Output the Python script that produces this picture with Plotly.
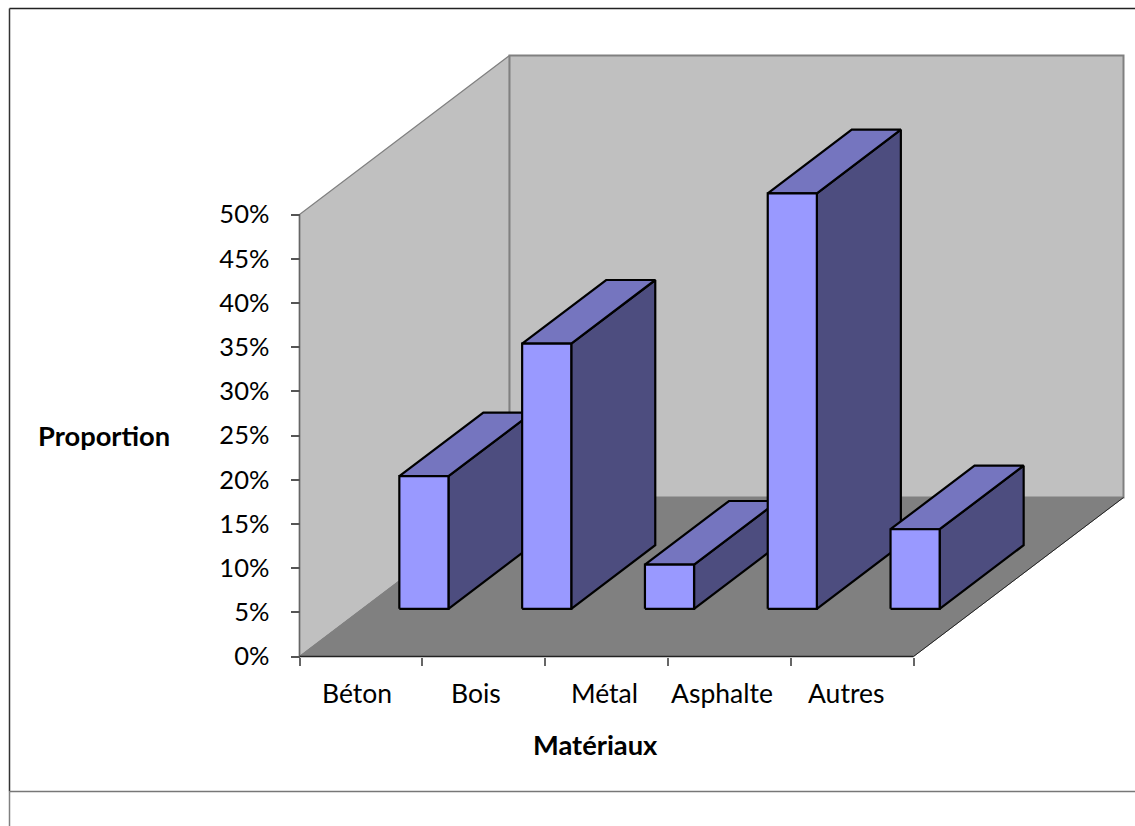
import plotly.graph_objects as go

categories = ["Béton", "Bois", "Métal", "Asphalte", "Autres"]
values = [15, 30, 5, 47, 9]
y_ticks = [0, 5, 10, 15, 20, 25, 30, 35, 40, 45, 50]
y_tick_labels = [f"{v}%" for v in y_ticks]
label_shift = [-0.03, -0.06, -0.02, -0.06, -0.05]

W, H = 1135, 826
X0, X1, Y0, Y1 = 299.5, 913.5, 656.5, 214.5
UX = (X1 - X0) / 5              # px per category
UY = (Y0 - Y1) / 50             # px per percent
DX = 210 / UX                   # depth vector, category units
DY = 159 / UY                   # depth vector, percent units
Y_MAX = 50
BAR_W = 0.4
FRONT, BACK = 0.3, 0.7

WALL, FLOOR = "#C0C0C0", "#808080"
EDGE = "#808080"
FRONT_C, TOP_C, SIDE_C = "#9999FF", "#7575BF", "#4D4D7F"
FONT = "Lato"
FS = 26.5
FS_Y = 25.5
FS_B = 27.3


def poly(xs, ys, fill, line, width):
    return go.Scatter(
        x=xs + xs[:1], y=ys + ys[:1], mode="lines", fill="toself", fillcolor=fill,
        line=dict(color=line, width=width, shape="linear"),
        hoverinfo="skip", showlegend=False,
    )


def seg(xs, ys, color, width):
    return go.Scatter(x=xs, y=ys, mode="lines", line=dict(color=color, width=width),
                      hoverinfo="skip", showlegend=False)


traces = [
    poly([0, DX, DX, 0], [0, DY, DY + Y_MAX, Y_MAX], WALL, EDGE, 1.3),
    poly([DX, 5 + DX, 5 + DX, DX], [DY, DY, DY + Y_MAX, DY + Y_MAX], WALL, EDGE, 2),
    poly([0, 5, 5 + DX, DX], [0, 0, DY, DY], FLOOR, FLOOR, 1),
    seg([5, 5 + DX], [0, DY], "#222222", 1),
    seg([0, 0], [0, Y_MAX], "#666666", 1.5),
    seg([0, 5], [0, 0], "#222222", 1.5),
]

for i, v in enumerate(values):
    l = i + 0.5 - BAR_W / 2 + FRONT * DX
    r = l + BAR_W
    b = FRONT * DY
    t = b + v
    ddx = (BACK - FRONT) * DX
    ddy = (BACK - FRONT) * DY
    traces.append(poly([r, r + ddx, r + ddx, r], [b, b + ddy, t + ddy, t], SIDE_C, "#000000", 2.2))
    traces.append(poly([l, r, r + ddx, l + ddx], [t, t, t + ddy, t + ddy], TOP_C, "#000000", 2.2))
    traces.append(poly([l, r, r, l], [b, b, t, t], FRONT_C, "#000000", 2.2))

fig = go.Figure(traces)

annotations = [
    dict(x=i + 0.5 + s, y=0, xref="x", yref="y", yshift=-36, text=c, showarrow=False,
         xanchor="center", yanchor="middle",
         font=dict(family=FONT, size=FS, color="#000000"))
    for i, (c, s) in enumerate(zip(categories, label_shift))
]
annotations += [
    dict(x=103.5 / W, y=1 - 436 / H, xref="paper", yref="paper", text="<b>Proportion</b>",
         xanchor="center", yanchor="middle",
         showarrow=False, font=dict(family=FONT, size=FS_B, color="#000000")),
    dict(x=595 / W, y=1 - 744 / H, xref="paper", yref="paper", text="<b>Matériaux</b>",
         xanchor="center", yanchor="middle",
         showarrow=False, font=dict(family=FONT, size=FS_B, color="#000000")),
]

shapes = [
    dict(type="line", xref="paper", yref="paper", x0=9.5 / W, x1=1, y0=1 - 8.5 / H, y1=1 - 8.5 / H,
         line=dict(color="#222222", width=1.5)),
    dict(type="line", xref="paper", yref="paper", x0=9.5 / W, x1=9.5 / W, y0=1 - 8.5 / H, y1=1 - 791.5 / H,
         line=dict(color="#333333", width=1.5)),
    dict(type="line", xref="paper", yref="paper", x0=9.5 / W, x1=1, y0=1 - 791.5 / H, y1=1 - 791.5 / H,
         line=dict(color="#777777", width=1.5)),
    dict(type="line", xref="paper", yref="paper", x0=9.5 / W, x1=9.5 / W, y0=1 - 791.5 / H, y1=0,
         line=dict(color="#808080", width=1.5)),
]

fig.update_layout(
    width=W, height=H, margin=dict(l=0, r=0, t=0, b=0), autosize=False,
    paper_bgcolor="#FFFFFF", plot_bgcolor="rgba(0,0,0,0)",
    showlegend=False, annotations=annotations, shapes=shapes,
    xaxis=dict(
        domain=[0, 1], range=[-X0 / UX, (W - X0) / UX], tickmode="array", tickvals=[0, 1, 2, 3, 4, 5],
        ticktext=[""] * 6, ticks="outside", ticklen=8, tickwidth=1.5, tickcolor="#666666",
        anchor="free", position=1 - Y0 / H,
        showgrid=False, zeroline=False, showline=False, fixedrange=True,
    ),
    yaxis=dict(
        domain=[0, 1], range=[-(H - Y0) / UY, Y0 / UY], tickmode="array", tickvals=y_ticks,
        ticktext=y_tick_labels, ticks="outside", ticklen=9, tickwidth=1.5, tickcolor="#555555",
        tickfont=dict(family=FONT, size=FS_Y, color="#000000"), ticklabelstandoff=16,
        anchor="free", position=X0 / W,
        showgrid=False, zeroline=False, showline=False, fixedrange=True,
    ),
)

fig.write_html("out.html", config=dict(displayModeBar=False),
               post_script="document.body.style.margin='0';")
